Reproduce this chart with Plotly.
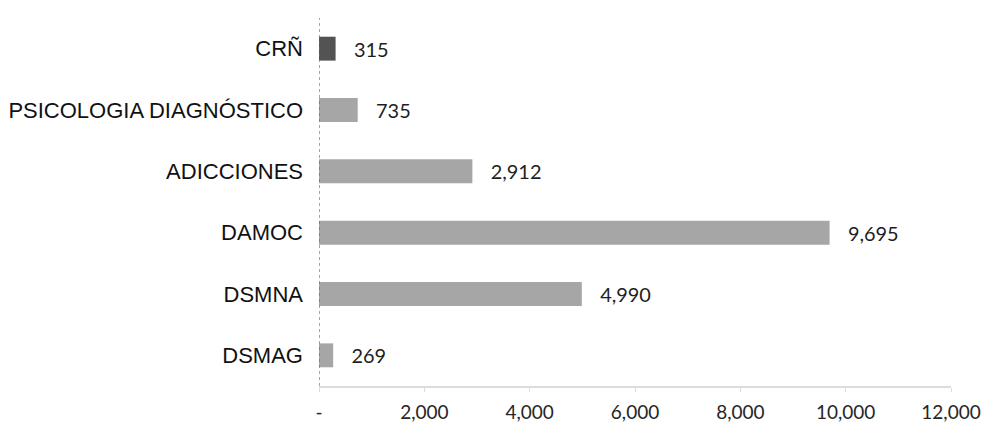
import plotly.graph_objects as go

categories = ["CRÑ", "PSICOLOGIA DIAGNÓSTICO", "ADICCIONES", "DAMOC", "DSMNA", "DSMAG"]
values = [315, 735, 2912, 9695, 4990, 269]
bar_colors = ["#535353", "#a6a6a6", "#a6a6a6", "#a6a6a6", "#a6a6a6", "#a6a6a6"]
tick_vals = [0, 2000, 4000, 6000, 8000, 10000, 12000]
tick_text = ["-", "2,000", "4,000", "6,000", "8,000", "10,000", "12,000"]

pad = "\u00a0" * 3

fig = go.Figure()
fig.add_trace(
    go.Bar(
        x=values,
        y=categories,
        orientation="h",
        marker=dict(color=bar_colors, line=dict(width=0)),
        texttemplate=pad + "%{x:,}",
        textposition="outside",
        textfont=dict(family="Lato", size=20, color="#1e1e1e"),
        cliponaxis=False,
        hoverinfo="skip",
    )
)

# dotted vertical axis at zero
fig.add_shape(
    type="line", xref="x", yref="paper", x0=0, x1=0, y0=0, y1=1,
    line=dict(color="#6a6a6a", width=1.2, dash="dot"),
)

fig.update_layout(
    width=983,
    height=423,
    margin=dict(l=319, r=32, t=18, b=37, autoexpand=False),
    paper_bgcolor="white",
    plot_bgcolor="white",
    showlegend=False,
    bargap=0.61,
    xaxis=dict(
        range=[0, 12000],
        tickvals=tick_vals,
        ticktext=tick_text,
        showgrid=False,
        zeroline=False,
        showline=True,
        linecolor="#dcdcdc",
        linewidth=1.5,
        ticks="outside",
        ticklen=4,
        tickcolor="#dcdcdc",
        ticklabelstandoff=4,
        automargin=False,
        tickfont=dict(family="Lato", size=19, color="#262626"),
    ),
    yaxis=dict(
        autorange="reversed",
        showgrid=False,
        zeroline=False,
        showline=False,
        ticks="",
        ticklabelstandoff=15,
        automargin=False,
        tickfont=dict(family="Liberation Sans", size=22, color="#111111"),
    ),
)

# drop the default 8px page margin so the figure fills the window exactly
fig.write_html(
    "out.html",
    config={"displayModeBar": False},
    post_script="document.body.style.margin='0px'; document.body.style.overflow='hidden';",
)
